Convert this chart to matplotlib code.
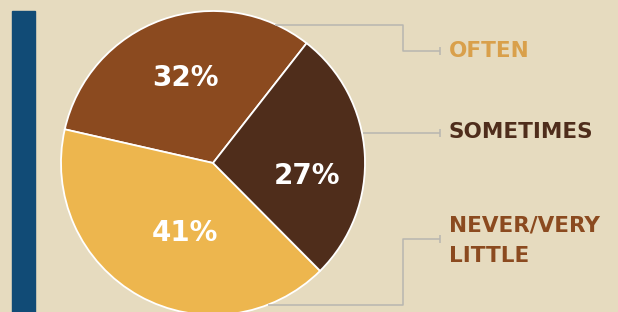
import matplotlib
matplotlib.use("Agg")
import numpy as np
import matplotlib.pyplot as plt
from matplotlib.patches import Rectangle

# data
categories = ["OFTEN", "NEVER/VERY\nLITTLE", "SOMETIMES"]
shares = [32, 41, 27]
slice_colors = ["#8B4A1F", "#EDB64E", "#4F2D1B"]
label_colors = ["#D9A04B", "#8B4A1F", "#4F2D1B"]

BG = "#E6DBBF"
W, H = 618, 312

fig = plt.figure(figsize=(W / 100, H / 100), dpi=100, facecolor=BG)
ax = fig.add_axes([0, 0, 1, 1])
ax.set_facecolor(BG)

# pie in pixel-like data coords (y up)
cx, cy, r = 213, H - 163, 152
wedges, _, autotexts = ax.pie(
    shares,
    colors=slice_colors,
    startangle=52,
    counterclock=True,
    center=(cx, cy),
    radius=r,
    autopct="%d%%",
    wedgeprops=dict(edgecolor="white", linewidth=1.3),
    textprops=dict(color="white", fontsize=20, fontweight="bold",
                   family="DejaVu Sans"),
)
# percentage labels are not centred on the wedge in the original
pct_pos = [(0.59, 108), (0.50, 248), (0.625, -8)]  # (fraction of radius, angle)
for t, (f, a) in zip(autotexts, pct_pos):
    t.set_position((cx + f * r * np.cos(np.radians(a)),
                    cy + f * r * np.sin(np.radians(a))))

# blue bar on the left
ax.add_patch(Rectangle((12, 0), 23, H - 11, color="#114B76", zorder=0))

# connectors + category labels
line_kw = dict(color="#B8B6B0", linewidth=1.1, solid_capstyle="butt")
conn = {
    "OFTEN": ([275, 403, 403, 440], [25, 25, 51, 51]),
    "SOMETIMES": ([363, 440], [133, 133]),
    "NEVER/VERY\nLITTLE": ([268, 403, 403, 440], [305, 305, 239, 239]),
}
text_y = {"OFTEN": 51, "SOMETIMES": 132, "NEVER/VERY\nLITTLE": 241}
for cat, col in zip(categories, label_colors):
    xs, ys = conn[cat]
    ax.plot(xs, [H - y for y in ys], **line_kw)
    ax.plot([xs[-1]], [H - ys[-1]], marker="|", markersize=6,
            color=line_kw["color"], markeredgewidth=1.1)
    ax.text(449, H - text_y[cat], cat, color=col, fontsize=15.5,
            fontweight="bold", family="DejaVu Sans",
            ha="left", va="center", linespacing=1.65)

ax.set_xlim(0, W)
ax.set_ylim(0, H)
ax.set_aspect("equal")
ax.axis("off")

fig.savefig("out.png", dpi=100, facecolor=BG)
